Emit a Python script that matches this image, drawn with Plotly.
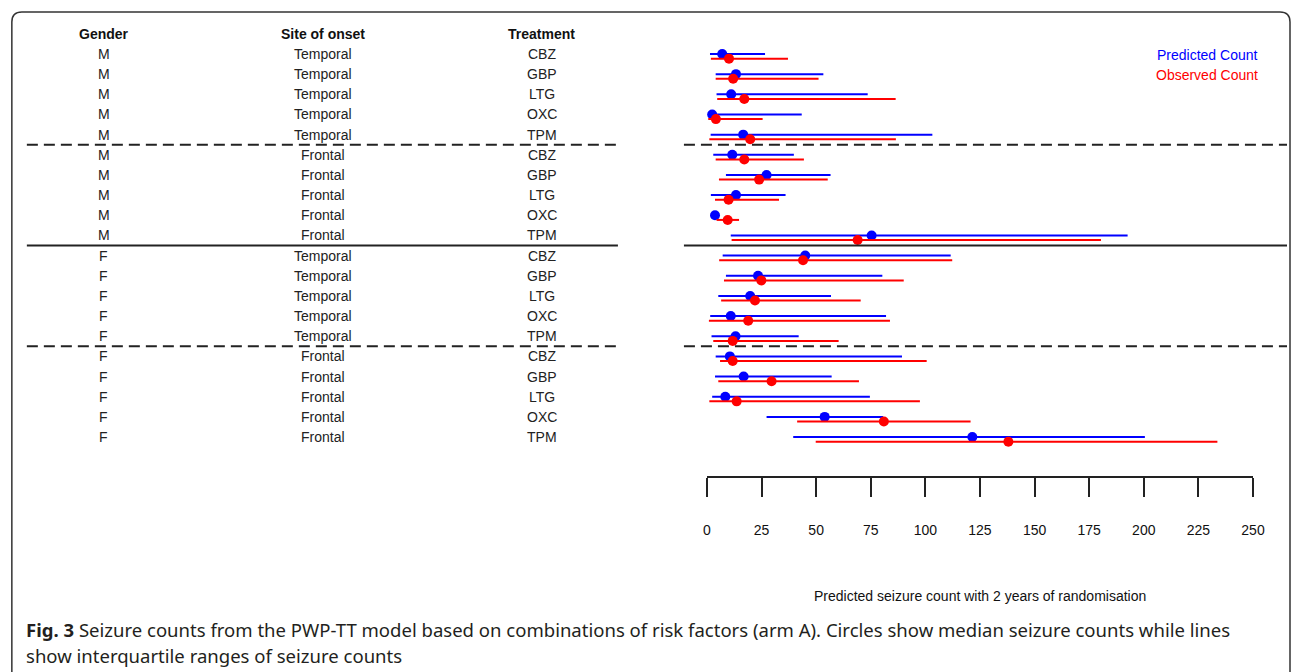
import plotly.graph_objects as go

W, H = 1292, 672

gender = ["M"] * 10 + ["F"] * 10
site = (["Temporal"] * 5 + ["Frontal"] * 5) * 2
treatment = ["CBZ", "GBP", "LTG", "OXC", "TPM"] * 4

pred_med = [7.0, 13.3, 11.1, 2.4, 16.6, 11.6, 27.3, 13.3, 3.7, 75.4,
            45.0, 23.4, 19.8, 10.9, 13.1, 10.5, 16.8, 8.4, 53.9, 121.5]
pred_lo = [1.4, 4.0, 4.4, 1.1, 1.7, 2.9, 8.7, 1.8, 2.5, 10.9,
           7.2, 8.7, 5.2, 1.5, 2.1, 4.0, 3.7, 2.4, 27.3, 39.5]
pred_hi = [26.6, 53.3, 73.6, 43.4, 103.2, 39.8, 56.6, 36.0, 5.0, 192.6,
           111.6, 80.3, 56.8, 82.0, 42.0, 89.3, 57.1, 74.6, 80.7, 200.5]
obs_med = [10.1, 12.0, 17.1, 4.1, 19.8, 17.1, 23.9, 9.9, 9.5, 69.0,
           44.0, 24.9, 22.0, 18.9, 11.8, 11.8, 29.6, 13.6, 81.0, 138.0]
obs_lo = [1.8, 4.0, 4.7, 0.6, 1.1, 4.0, 5.5, 3.7, 4.4, 11.3,
          5.6, 7.8, 6.5, 0.9, 2.9, 6.0, 5.2, 1.1, 41.3, 49.8]
obs_hi = [37.1, 51.1, 86.4, 25.5, 86.5, 44.4, 55.3, 33.0, 14.7, 180.4,
          112.3, 90.1, 70.4, 83.8, 60.3, 100.6, 69.6, 97.5, 120.7, 233.7]

x_ticks = [0, 25, 50, 75, 100, 125, 150, 175, 200, 225, 250]
col_headers = ["Gender", "Site of onset", "Treatment"]
legend_labels = ["Predicted Count", "Observed Count"]
x_title = "Predicted seizure count with 2 years of randomisation"
caption1_bold = "Fig. 3"
caption1 = " Seizure counts from the PWP-TT model based on combinations of risk factors (arm A). Circles show median seizure counts while lines"
caption2 = "show interquartile ranges of seizure counts"

BLUE = "#0000FF"
RED = "#FF0000"
FONT = "Liberation Sans, Arial, sans-serif"
CAP_FONT = "Noto Sans, Open Sans, sans-serif"
FS = 14

n = len(treatment)
rows = list(range(n))
OFF_B, OFF_R = 0.0, 0.23


def X(px):
    # horizontal placement in paper units (compensates the page's horizontal fit)
    return ((px - 4.15) / 0.9875) / W


def Y(px):
    return 1 - px / H


def seg(lo, hi, off):
    xs, ys = [], []
    for i in rows:
        xs += [lo[i], hi[i], None]
        ys += [i + off, i + off, None]
    return xs, ys


fig = go.Figure()
bx, by = seg(pred_lo, pred_hi, OFF_B)
rx, ry = seg(obs_lo, obs_hi, OFF_R)
fig.add_trace(go.Scatter(x=bx, y=by, mode="lines", line=dict(color=BLUE, width=2),
                         showlegend=False, hoverinfo="skip"))
fig.add_trace(go.Scatter(x=pred_med, y=[i + OFF_B for i in rows], mode="markers",
                         marker=dict(color=BLUE, size=10), showlegend=False, cliponaxis=False))
fig.add_trace(go.Scatter(x=rx, y=ry, mode="lines", line=dict(color=RED, width=2),
                         showlegend=False, hoverinfo="skip"))
fig.add_trace(go.Scatter(x=obs_med, y=[i + OFF_R for i in rows], mode="markers",
                         marker=dict(color=RED, size=10), showlegend=False, cliponaxis=False))

# row px mapping: px = 54 + 20.16*i
y_top = -54 / 20.16
y_bot = (H - 54) / 20.16

ann = []
col_x = [104, 323, 542]
for cx, hdr in zip(col_x, col_headers):
    ann.append(dict(x=X(cx), xref="paper", y=-1, yref="y", text="<b>%s</b>" % hdr,
                    xanchor="center", yanchor="middle", showarrow=False,
                    font=dict(family=FONT, size=FS, color="#111")))
for i in rows:
    for cx, txt in zip(col_x, [gender[i], site[i], treatment[i]]):
        ann.append(dict(x=X(cx), xref="paper", y=i, yref="y", text=txt, showarrow=False,
                        xanchor="center", yanchor="middle",
                        font=dict(family=FONT, size=FS, color="#222")))

ann.append(dict(x=X(1260), xref="paper", y=Y(55), yref="paper", text=legend_labels[0],
                xanchor="right", yanchor="middle", showarrow=False,
                font=dict(family=FONT, size=FS, color=BLUE)))
ann.append(dict(x=X(1260), xref="paper", y=Y(75), yref="paper", text=legend_labels[1],
                xanchor="right", yanchor="middle", showarrow=False,
                font=dict(family=FONT, size=FS, color=RED)))
ann.append(dict(x=X(980), xref="paper", y=Y(595.5), yref="paper", text=x_title,
                xanchor="center", yanchor="middle", showarrow=False,
                font=dict(family=FONT, size=FS, color="#111")))
ann.append(dict(x=X(24), xref="paper", y=Y(629), yref="paper", xanchor="left",
                yanchor="middle", text="<b>%s</b>%s" % (caption1_bold, caption1), showarrow=False,
                font=dict(family=CAP_FONT, size=18.55, color="#231f20")))
ann.append(dict(x=X(24), xref="paper", y=Y(655), yref="paper", xanchor="left",
                yanchor="middle", text=caption2, showarrow=False,
                font=dict(family=CAP_FONT, size=18.55, color="#231f20")))

shapes = []
for yv, dash in [(4.5, "11px,6px"), (9.5, "solid"), (14.5, "11px,6px")]:
    for x0, x1 in [(27, 618), (684, 1287)]:
        shapes.append(dict(type="line", xref="paper", yref="y", x0=X(x0), x1=X(x1), y0=yv, y1=yv,
                           line=dict(color="#222", width=2, dash=dash)))


def P(x, y):
    return "%.5f,%.5f" % (X(x), Y(y))


r = 10
path = ("M " + P(12, 700) + " L " + P(12, 12 + r) + " Q " + P(12, 12) + " " + P(12 + r, 12) +
        " L " + P(1290 - r, 12) + " Q " + P(1290, 12) + " " + P(1290, 12 + r) + " L " + P(1290, 700))
shapes.append(dict(type="path", xref="paper", yref="paper", path=path,
                   line=dict(color="#333", width=1.5)))

fig.update_layout(
    width=W, height=H, margin=dict(l=0, r=0, t=0, b=0), autosize=False,
    paper_bgcolor="white", plot_bgcolor="rgba(0,0,0,0)",
    annotations=ann, shapes=shapes, showlegend=False,
    xaxis=dict(domain=[X(707), X(1253)], range=[0, 250], anchor="free", position=Y(477),
               side="bottom", showline=True, linecolor="#222", linewidth=1.5,
               ticks="outside", ticklen=19, tickwidth=1.5, tickcolor="#222",
               tickvals=x_ticks, ticktext=[str(t) for t in x_ticks],
               showgrid=False, zeroline=False, ticklabelstandoff=21,
               tickfont=dict(family=FONT, size=FS, color="#111")),
    yaxis=dict(domain=[0, 1], range=[y_bot, y_top], visible=False),
)

fig.write_html(
    "out.html",
    config={"responsive": False, "displayModeBar": False},
    post_script=("document.documentElement.style.margin='0';document.documentElement.style.padding='0';"
                 "document.documentElement.style.overflow='hidden';"
                 "document.body.style.margin='0';document.body.style.padding='0';"
                 "document.body.style.overflow='hidden';"),
)
